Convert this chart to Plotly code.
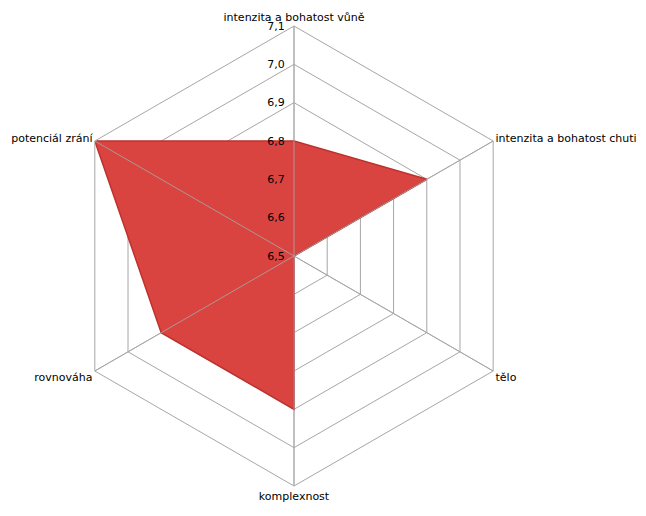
import plotly.graph_objects as go

categories = ["intenzita a bohatost vůně", "intenzita a bohatost chuti", "tělo",
              "komplexnost", "rovnováha", "potenciál zrání"]
values = [6.8, 6.9, 6.5, 6.9, 6.9, 7.1]
radial_ticks = [6.5, 6.6, 6.7, 6.8, 6.9, 7.0, 7.1]
r_min, r_max = 6.5, 7.1

W, H = 646, 516
cx, cy, R = 286, 248, 230

fig = go.Figure()
fig.add_trace(go.Scatterpolar(
    r=values + values[:1],
    theta=categories + categories[:1],
    mode="lines",
    fill="toself",
    fillcolor="rgb(218,68,64)",
    line=dict(color="rgb(190,50,46)", width=1.5),
    hoverinfo="skip",
    showlegend=False,
))

# spokes drawn above the fill (as in the reference)
for c in categories:
    fig.add_trace(go.Scatterpolar(
        r=[r_min, r_max], theta=[c, c], mode="lines",
        line=dict(color="rgba(166,166,166,0.85)", width=1),
        hoverinfo="skip", showlegend=False,
    ))

fig.update_layout(
    width=W, height=H,
    margin=dict(l=0, r=0, t=0, b=0),
    paper_bgcolor="white",
    separators=", ",
    font=dict(family="DejaVu Sans", size=11, color="black"),
    polar=dict(
        domain=dict(x=[(cx - R) / W, (cx + R) / W], y=[1 - (cy + R) / H, 1 - (cy - R) / H]),
        bgcolor="white",
        gridshape="linear",
        radialaxis=dict(
            range=[r_min, r_max],
            tickvals=radial_ticks,
            tickformat=".1f",
            angle=90,
            tickangle=90,
            side="counterclockwise",
            showline=False,
            gridcolor="#a6a6a6",
            gridwidth=1,
            ticks="outside",
            ticklen=5,
            tickcolor="rgba(0,0,0,0)",
            layer="above traces",
            tickfont=dict(family="DejaVu Sans", size=11, color="black"),
        ),
        angularaxis=dict(
            direction="clockwise",
            rotation=90,
            linecolor="#a6a6a6",
            gridcolor="#a6a6a6",
            linewidth=1,
            ticks="",
            layer="above traces",
            tickfont=dict(family="DejaVu Sans", size=11, color="black"),
        ),
    ),
)

fig.write_html("out.html")
